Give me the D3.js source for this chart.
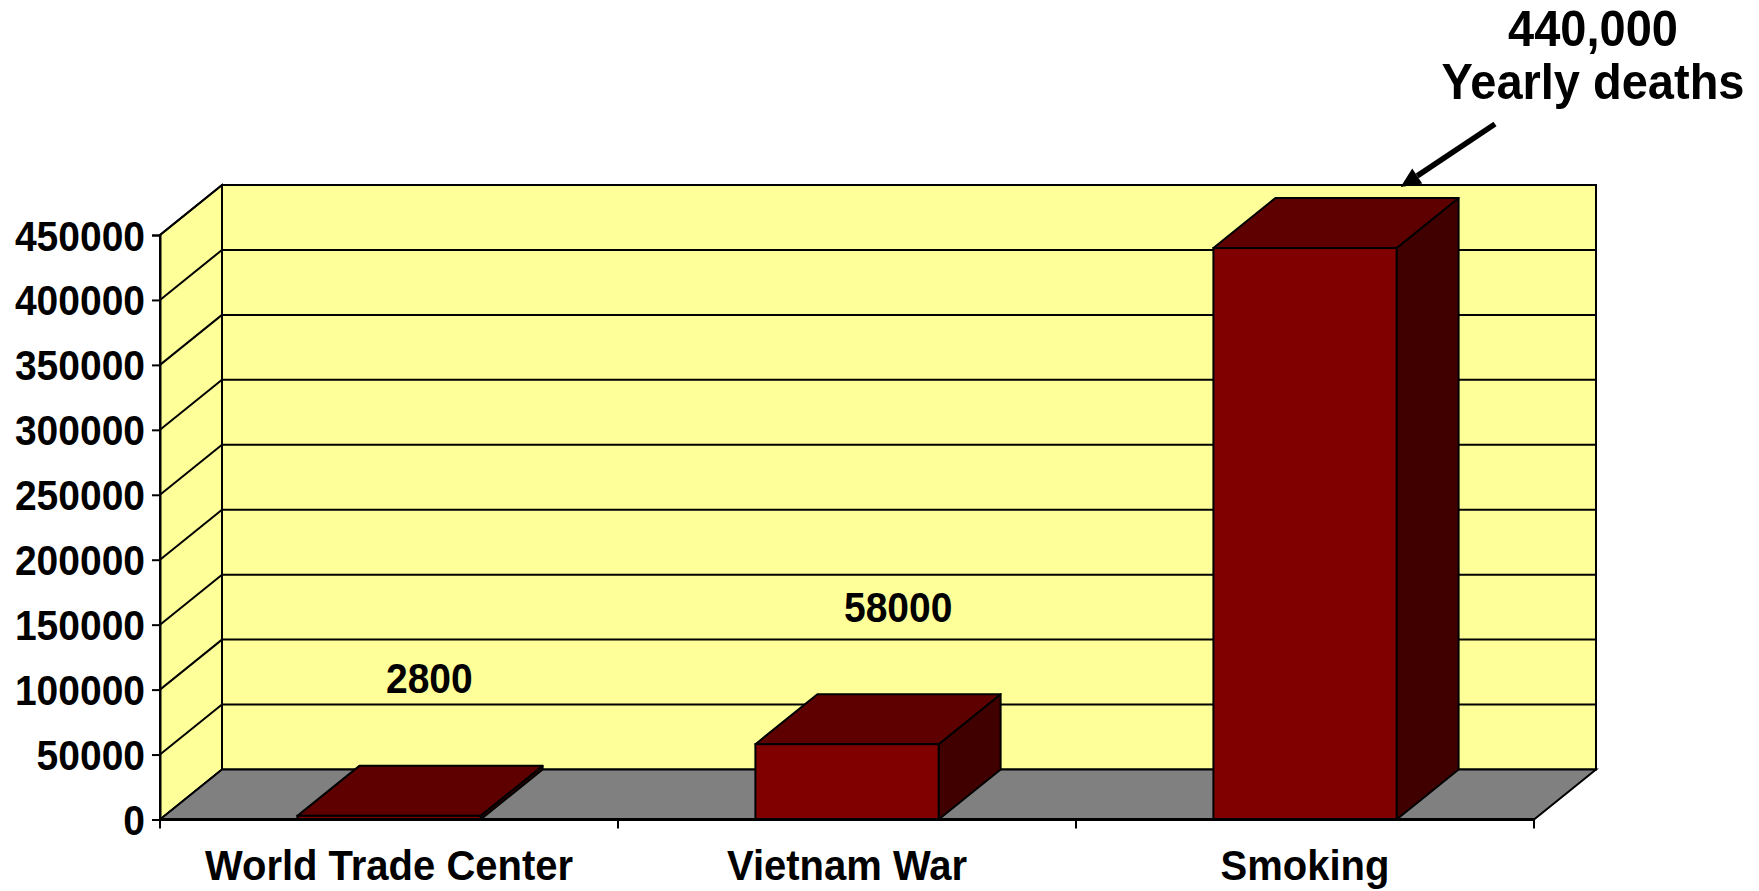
<!DOCTYPE html>
<html>
<head>
<meta charset="utf-8">
<script src="https://cdn.jsdelivr.net/npm/d3@7"></script>
<style>
  html, body { margin: 0; padding: 0; background: #ffffff; }
  svg { display: block; }
  text { font-family: "Liberation Sans", Arial, sans-serif; font-weight: bold; fill: #000; }
</style>
</head>
<body>
<svg id="chart" width="1759" height="891"></svg>
<script>
// ---- data ----
const categories = ["World Trade Center", "Vietnam War", "Smoking"];
const deaths = [2800, 58000, 440000];
const dataLabels = ["2800", "58000", null];
const yTicks = [0, 50000, 100000, 150000, 200000, 250000, 300000, 350000, 400000, 450000];
const annotationLines = ["440,000", "Yearly deaths"];
const annotatedCategory = "Smoking";

// ---- layout ----
const W = 1759, H = 891;
const plotLeft = 160, plotRight = 1534;
const yZero = 819.5, yTop = 235;
const depthX = 62, depthY = -50;

const svg = d3.select("#chart");

const x = d3.scaleBand().domain(categories).range([plotLeft, plotRight]).paddingInner(0.6).paddingOuter(0.3);
const y = d3.scaleLinear().domain([0, 450000]).range([yZero, yTop]);

const wallColor = "#FFFF99", floorColor = "#808080";
const frontColor = "#800000", topColor = "#5E0000", sideColor = "#400000";

// back wall
svg.append("rect")
  .attr("x", plotLeft + depthX).attr("y", yTop + depthY)
  .attr("width", plotRight - plotLeft).attr("height", yZero - yTop)
  .attr("fill", wallColor).attr("stroke", "#000").attr("stroke-width", 2);

// left wall
const pt = p => p.map(d => d.join(",")).join(" ");
svg.append("polygon")
  .attr("points", pt([[plotLeft, yZero], [plotLeft, yTop], [plotLeft + depthX, yTop + depthY], [plotLeft + depthX, yZero + depthY]]))
  .attr("fill", wallColor).attr("stroke", "#000").attr("stroke-width", 2);

// floor
svg.append("polygon")
  .attr("points", pt([[plotLeft, yZero], [plotRight, yZero], [plotRight + depthX, yZero + depthY], [plotLeft + depthX, yZero + depthY]]))
  .attr("fill", floorColor).attr("stroke", "#000").attr("stroke-width", 2);

// gridlines (back + left wall)
const gl = svg.append("g").attr("stroke", "#000").attr("stroke-width", 2).attr("fill", "none");
yTicks.filter(v => v > 0).forEach(v => {
  gl.append("line")
    .attr("x1", plotLeft + depthX).attr("x2", plotRight + depthX)
    .attr("y1", y(v) + depthY).attr("y2", y(v) + depthY);
  gl.append("line")
    .attr("x1", plotLeft).attr("x2", plotLeft + depthX)
    .attr("y1", y(v)).attr("y2", y(v) + depthY);
});

// bars
const bars = svg.append("g").selectAll("g").data(categories.map((c, i) => ({c, v: deaths[i], lab: dataLabels[i]})))
  .join("g");
bars.each(function(d) {
  const g = d3.select(this);
  const x0 = x(d.c), x1 = x(d.c) + x.bandwidth();
  const yv = y(d.v);
  g.append("polygon") // side
    .attr("points", pt([[x1, yv], [x1 + depthX, yv + depthY], [x1 + depthX, yZero + depthY], [x1, yZero]]))
    .attr("fill", sideColor).attr("stroke", "#000").attr("stroke-width", 2).attr("stroke-linejoin", "round");
  g.append("polygon") // top
    .attr("points", pt([[x0, yv], [x1, yv], [x1 + depthX, yv + depthY], [x0 + depthX, yv + depthY]]))
    .attr("fill", topColor).attr("stroke", "#000").attr("stroke-width", 2).attr("stroke-linejoin", "round");
  g.append("rect") // front
    .attr("x", x0).attr("y", yv).attr("width", x1 - x0).attr("height", yZero - yv)
    .attr("fill", frontColor).attr("stroke", "#000").attr("stroke-width", 2);
});

// front x-axis line
svg.append("line").attr("x1", plotLeft).attr("x2", plotRight).attr("y1", yZero).attr("y2", yZero)
  .attr("stroke", "#000").attr("stroke-width", 3);

// y axis
const yAxis = d3.axisLeft(y).tickValues(yTicks).tickFormat(d3.format("d")).tickSize(8).tickPadding(7);
const ya = svg.append("g").attr("transform", `translate(${plotLeft},0)`).call(yAxis);
ya.select(".domain").attr("stroke", "#000").attr("stroke-width", 2);
ya.selectAll(".tick line").attr("stroke", "#000").attr("stroke-width", 2);
ya.selectAll(".tick text").attr("font-size", 39).attr("font-family", "Liberation Sans, Arial, sans-serif")
  .attr("font-weight", "bold").attr("fill", "#000").attr("dy", "0.36em")
  .attr("transform", "scale(1,1.07)");

// x axis (ticks at category boundaries)
const boundaries = [plotLeft, ...categories.slice(1).map(c => x(c) - x.step() * x.paddingInner() / 2), plotRight];
svg.append("g").selectAll("line").data(boundaries).join("line")
  .attr("x1", d => d).attr("x2", d => d).attr("y1", yZero).attr("y2", yZero + 9)
  .attr("stroke", "#000").attr("stroke-width", 2);
svg.append("g").selectAll("text").data(categories).join("text")
  .attr("transform", d => `translate(${x(d) + x.bandwidth() / 2},880) scale(1,1.05)`)
  .attr("text-anchor", "middle").attr("font-size", 40).text(d => d);

// data labels
bars.filter(d => d.lab).append("text")
  .attr("transform", d => `translate(${x(d.c) + x.bandwidth() / 2 - 3},${y(d.v) - 122.5}) scale(1,1.1)`)
  .attr("text-anchor", "start").attr("font-size", 39).text(d => d.lab);

// annotation with arrow
const annX = 1593;
svg.append("g").selectAll("text").data(annotationLines).join("text")
  .attr("transform", (d, i) => `translate(${annX},${46 + i * 53}) scale(1,1.05)`)
  .attr("text-anchor", "middle").attr("font-size", 47).text(d => d);

const tipX = x(annotatedCategory) + x.bandwidth() + 4, tipY = yTop + depthY + 2;
const startX = 1495, startY = 124;
const ang = Math.atan2(tipY - startY, tipX - startX);
const headLen = 20, headW = 9;
const bx = tipX - headLen * Math.cos(ang), by = tipY - headLen * Math.sin(ang);
svg.append("line").attr("x1", startX).attr("y1", startY).attr("x2", bx).attr("y2", by)
  .attr("stroke", "#000").attr("stroke-width", 5.5);
svg.append("polygon")
  .attr("points", pt([[tipX, tipY],
    [bx + headW * Math.sin(ang), by - headW * Math.cos(ang)],
    [bx - headW * Math.sin(ang), by + headW * Math.cos(ang)]]))
  .attr("fill", "#000");
</script>
</body>
</html>
